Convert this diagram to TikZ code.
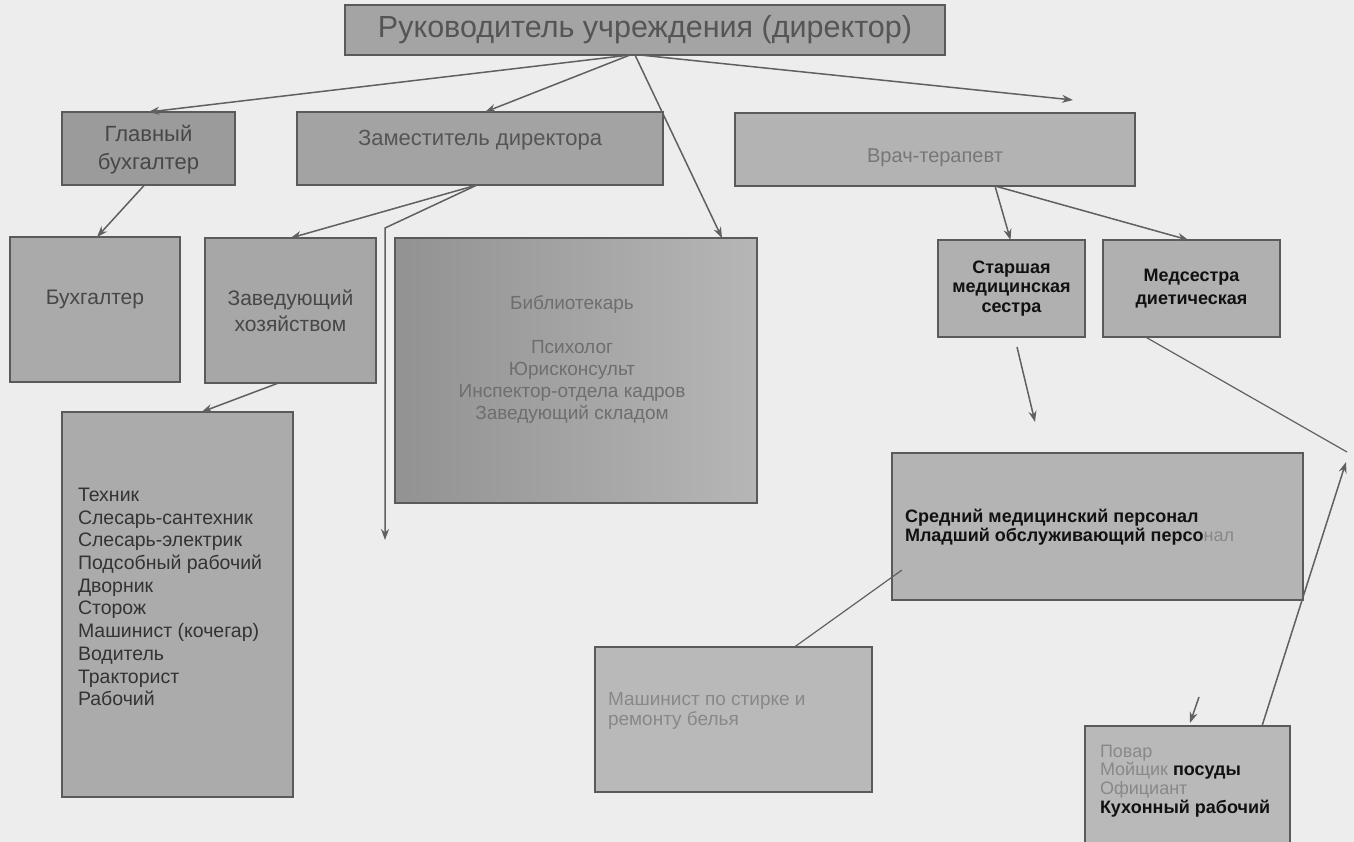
\documentclass[tikz,border=0pt]{standalone}
\usepackage{fontspec}
\setmainfont{Liberation Sans}
\usetikzlibrary{arrows.meta,calc}
\definecolor{bg}{HTML}{EDEDED}
\definecolor{boxline}{HTML}{5A5A5A}
\definecolor{lineC}{HTML}{606060}
\definecolor{fDir}{HTML}{A4A4A4}
\definecolor{tDir}{HTML}{555555}
\definecolor{fGlav}{HTML}{9B9B9B}
\definecolor{tDark}{HTML}{474747}
\definecolor{fZam}{HTML}{A3A3A3}
\definecolor{fVrach}{HTML}{B3B3B3}
\definecolor{tLight}{HTML}{777777}
\definecolor{fBuh}{HTML}{AAAAAA}
\definecolor{fZav}{HTML}{A7A7A7}
\definecolor{fLibL}{HTML}{929292}
\definecolor{fLibR}{HTML}{B6B6B6}
\definecolor{tLib}{HTML}{6E6E6E}
\definecolor{fList}{HTML}{ABABAB}
\definecolor{tList}{HTML}{333333}
\definecolor{fMed}{HTML}{B0B0B0}
\definecolor{tBlack}{HTML}{111111}
\definecolor{fSred}{HTML}{B4B4B4}
\definecolor{fMash}{HTML}{B9B9B9}
\definecolor{tPale}{HTML}{888888}
\begin{document}
\begin{tikzpicture}[x=1pt,y=-1pt,
  box/.style={draw=boxline, line width=1.8pt, inner sep=0pt, outer sep=0pt, align=center},
  txt/.style={inner sep=0pt, outer sep=0pt},
  conn/.style={draw=lineC, line width=1.5pt, -{Stealth[length=11pt,width=8pt]}},
  plainline/.style={draw=lineC, line width=1.2pt},
]
\useasboundingbox[fill=bg] (0,0) rectangle (1354,842);

% boxes
\node[box, fill=fDir, minimum width=600pt, minimum height=50pt, text=tDir,
  font=\fontsize{30.5}{34}\selectfont] (dir) at (645,30) {Руководитель учреждения (директор)};
\node[box, fill=fGlav, minimum width=173pt, minimum height=73pt, text=tDark,
  font=\fontsize{22}{28}\selectfont] (glav) at (148.5,148.5) {\mbox{}\\[-10pt]Главный\\бухгалтер};
\node[box, fill=fZam, minimum width=366pt, minimum height=73pt, text=tDir,
  font=\fontsize{22}{26}\selectfont] (zam) at (480,148.5) {Заместитель директора\\[-4pt]\mbox{}};
\node[box, fill=fVrach, minimum width=400pt, minimum height=73pt, text=tLight,
  font=\fontsize{20}{24}\selectfont] (vrach) at (935,149.5) {\mbox{}\\[6pt]Врач-терапевт};
\node[box, fill=fBuh, minimum width=170pt, minimum height=145pt, text=tDark,
  font=\fontsize{21}{26}\selectfont] (buh) at (95,309.5) {Бухгалтер\\[-2pt]\mbox{}};
\node[box, fill=fZav, minimum width=171pt, minimum height=145pt, text=tDark,
  font=\fontsize{21}{26}\selectfont] (zav) at (290.5,310.5) {Заведующий\\хозяйством};
\node[box, left color=fLibL, right color=fLibR, minimum width=362pt, minimum height=265pt] (lib) at (576,370.5) {};
\node[box, fill=fList, minimum width=231pt, minimum height=385pt] (list) at (177.5,604.5) {};
\node[box, fill=fMed, minimum width=147pt, minimum height=97pt, text=tBlack,
  font=\bfseries\fontsize{18}{19.5}\selectfont] (star) at (1011.5,288.5) {Старшая\\медицинская\\сестра};
\node[box, fill=fMed, minimum width=177pt, minimum height=97pt, text=tBlack,
  font=\bfseries\fontsize{18}{23}\selectfont] (meds) at (1191.5,288.5) {Медсестра\\диетическая};
\node[box, fill=fSred, minimum width=411pt, minimum height=147pt] (sred) at (1097.5,526.5) {};
\node[box, fill=fMash, minimum width=277pt, minimum height=145pt] (mash) at (733.5,719.5) {};
\node[box, fill=fMash, minimum width=205pt, minimum height=128pt] (kuh) at (1187.5,790) {};

% texts in boxes
\node[txt, align=center, text=tLib, font=\fontsize{19}{22}\selectfont] (libT) at (572,360)
  {Библиотекарь\\[22pt]Психолог\\Юрисконсульт\\Инспектор-отдела кадров\\Заведующий складом};
\node[txt, anchor=west, align=left, text=tList, font=\fontsize{19.5}{22.7}\selectfont] (listT) at (78,597)
  {Техник\\Слесарь-сантехник\\Слесарь-электрик\\Подсобный рабочий\\Дворник\\Сторож\\Машинист (кочегар)\\Водитель\\Тракторист\\Рабочий};
\node[txt, anchor=west, align=left, text=tBlack, font=\fontsize{18}{18.5}\selectfont] (sredT) at (905,527)
  {\textbf{Средний медицинский персонал}\\\textbf{Младший обслуживающий персо}{\color{tPale}нал}};
\node[txt, anchor=west, align=left, text=tPale, font=\fontsize{19}{20}\selectfont] (mashT) at (608,711)
  {Машинист по стирке и\\ремонту белья};
\node[txt, anchor=west, align=left, text=tPale, font=\fontsize{18}{18.7}\selectfont] (kuhT) at (1100,781)
  {Повар\\Мойщик {\color{tBlack}\bfseries посуды}\\Официант\\{\color{tBlack}\bfseries Кухонный рабочий}};

% free coordinates
\coordinate (vrachTip) at (1073,100);
\coordinate (vtop) at (385,228);
\coordinate (vend) at (385,540);
\coordinate (sa1) at (1017,347);
\coordinate (sa2) at (1035,422);
\coordinate (rtA) at (1347,452);
\coordinate (rtB) at (1346,462);
\coordinate (ka1) at (1199,697);
\coordinate (ka2) at (1190,723);
\coordinate (sredIn) at (902,570);

% connectors
\draw[conn] ([xshift=-15pt]dir.south) -- (glav.north);
\draw[conn] ([xshift=-15pt]dir.south) -- ([xshift=5pt]zam.north);
\draw[conn] ([xshift=-10pt]dir.south) -- ([xshift=-35pt]lib.north east);
\draw[conn] ([xshift=-5pt]dir.south) -- (vrachTip);
\draw[conn] ([xshift=-4pt]glav.south) -- ([xshift=2pt]buh.north);
\draw[conn] ([xshift=-3pt]zam.south) -- (zav.north);
\draw[conn] ([xshift=-3pt]zam.south) -- (vtop) -- (vend);
\draw[conn] ([xshift=-12pt]zav.south) -- ([xshift=24pt]list.north);
\draw[conn] ([xshift=60pt]vrach.south) -- ([xshift=-1pt]star.north);
\draw[conn] ([xshift=60pt]vrach.south) -- ([xshift=-3pt]meds.north);
\draw[conn] (sa1) -- (sa2);
\draw[plainline] ([xshift=-46pt]meds.south) -- (rtA);
\draw[conn] ([xshift=-28pt]kuh.north east) -- (rtB);
\draw[conn] (ka1) -- (ka2);
\draw[plainline] (sredIn) -- ([xshift=61pt]mash.north);
\end{tikzpicture}
\end{document}
